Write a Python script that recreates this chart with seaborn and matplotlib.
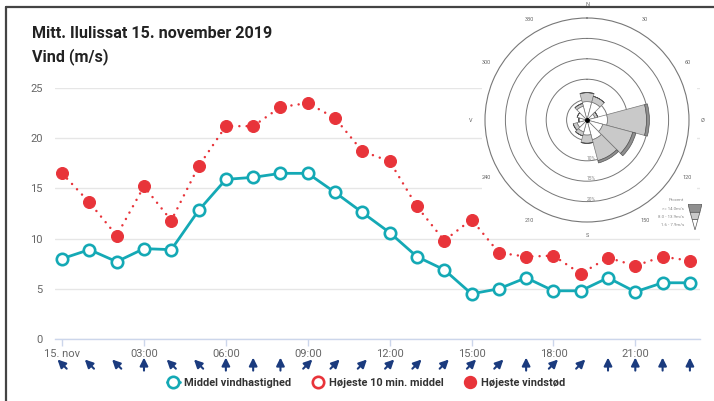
import numpy as np
import pandas as pd
import matplotlib.pyplot as plt
import seaborn as sns
from matplotlib.lines import Line2D
from matplotlib.patches import Polygon
from matplotlib.transforms import offset_copy

# hourly values, 15 Nov 2019
hours = list(range(24))
mean_speed = [8.0, 8.9, 7.7, 9.0, 8.9, 12.8, 15.9, 16.1, 16.5, 16.5, 14.6, 12.6,
              10.6, 8.2, 6.9, 4.5, 5.0, 6.1, 4.8, 4.8, 6.1, 4.7, 5.6, 5.6]
max_gust = [16.5, 13.6, 10.3, 15.2, 11.8, 17.2, 21.2, 21.2, 23.1, 23.5, 22.0, 18.7,
            17.7, 13.2, 9.8, 11.9, 8.6, 8.2, 8.3, 6.5, 8.1, 7.3, 8.2, 7.8]
# direction the arrow points (degrees, clockwise from north)
arrow_dir = [315, 315, 315, 0, 315, 315, 0, 0, 0, 45, 45, 45,
             45, 45, 45, 45, 45, 0, 45, 45, 0, 0, 0, 0]
tick_hours = [0, 3, 6, 9, 12, 15, 18, 21]
tick_labels = ['15. nov', '03:00', '06:00', '09:00', '12:00', '15:00', '18:00', '21:00']

# wind rose (percent per sector and speed class)
rose_dirs = [0, 30, 60, 90, 120, 150, 180, 210, 240, 270, 300, 330]
rose_low = [4.5, 4.5, 2.0, 5.0, 4.0, 5.0, 3.7, 3.0, 2.5, 2.0, 2.5, 3.5]
rose_mid = [2.2, 1.5, 0.7, 9.6, 7.6, 5.3, 2.0, 1.0, 1.0, 0.0, 0.0, 0.7]
rose_high = [0.0, 0.0, 0.0, 0.7, 0.8, 0.6, 0.0, 0.0, 0.0, 0.0, 0.0, 0.0]
rose_labels = ['N', '30', '60', 'Ø', '120', '150', 'S', '210', '240', 'V', '300', '330']

df = pd.DataFrame({'hour': hours, 'mean': mean_speed, 'gust': max_gust})

teal = '#14a9b5'
red = '#e8343a'
navy = '#1b3b7e'

sns.set_theme(style='white')
plt.rcParams['font.family'] = ['Roboto', 'DejaVu Sans']

fig = plt.figure(figsize=(7.14, 4.01), dpi=100)
ax = fig.add_axes([55 / 714, 62 / 401, 645 / 714, 251 / 401])

sns.lineplot(data=df, x='hour', y='gust', ax=ax, color=red, linestyle=(0, (0.01, 2.9)),
             linewidth=1.8, marker='o', markersize=8.6, markerfacecolor=red,
             markeredgecolor=red, dash_capstyle='round', zorder=3)
sns.lineplot(data=df, x='hour', y='mean', ax=ax, color=teal, linewidth=2,
             marker='o', markersize=8.2, markerfacecolor='white', markeredgecolor=teal,
             markeredgewidth=1.9, zorder=4)

ax.set_xlim(-0.26, 23.37)
ax.set_ylim(0, 25)
ax.set_yticks([0, 5, 10, 15, 20, 25])
ax.set_xticks(tick_hours)
ax.set_xticklabels(tick_labels)
ax.set_xlabel('')
ax.set_ylabel('')
ax.grid(axis='y', color='#e6e6e6', linewidth=1)
for s in ['top', 'right', 'left']:
    ax.spines[s].set_visible(False)
ax.spines['bottom'].set_color('#ccd6eb')
ax.spines['bottom'].set_linewidth(1)
ax.tick_params(axis='y', length=0, pad=9, labelsize=8, labelcolor='#666666')
ax.tick_params(axis='x', direction='out', length=5, color='#ccd6eb', width=1,
               pad=2, labelsize=8, labelcolor='#666666', bottom=True)

# wind direction arrows under the axis
L = 13
xtr = ax.get_xaxis_transform()
for h, d in zip(hours, arrow_dir):
    dx = L * np.sin(np.radians(d)) / 2
    dy = L * np.cos(np.radians(d)) / 2
    head = offset_copy(xtr, fig=fig, x=dx, y=dy, units='dots')
    tail = offset_copy(xtr, fig=fig, x=-dx, y=-dy, units='dots')
    ax.annotate('', xy=(h, -0.1), xycoords=head, xytext=(h, -0.1), textcoords=tail,
                arrowprops=dict(arrowstyle='-|>,head_length=0.4,head_width=0.2',
                                color=navy, lw=1.5, shrinkA=0, shrinkB=0),
                annotation_clip=False)

# legend
handles = [
    Line2D([], [], color=teal, lw=2, marker='o', markersize=8.2, markerfacecolor='white',
           markeredgecolor=teal, markeredgewidth=1.9),
    Line2D([], [], color=red, lw=0, marker='o', markersize=8.2, markerfacecolor='white',
           markeredgecolor=red, markeredgewidth=1.9),
    Line2D([], [], color=red, lw=0, marker='o', markersize=8.6, markerfacecolor=red,
           markeredgecolor=red),
]
names = ['Middel vindhastighed', 'Højeste 10 min. middel', 'Højeste vindstød']
fig.legend(handles, names, loc='center', bbox_to_anchor=(366 / 714, 1 - 383 / 401),
           ncol=3, frameon=False, handlelength=1.2, handletextpad=0.4, columnspacing=1.8,
           prop={'weight': 'bold', 'size': 7.9}, labelcolor='#333333')

# titles
fig.text(32 / 714, 1 - 33 / 401, 'Mitt. Ilulissat 15. november 2019', fontsize=11.6,
         fontweight='bold', color='#222222', va='center')
fig.text(32 / 714, 1 - 57 / 401, 'Vind (m/s)', fontsize=11.6, fontweight='bold',
         color='#222222', va='center')

# frame
fig.add_artist(Line2D([6 / 714, 6 / 714], [0.0, 1 - 7 / 401], color='#444444', lw=1.6))
fig.add_artist(Line2D([6 / 714, 1.0], [1 - 7 / 401, 1 - 7 / 401], color='#444444', lw=1.6))

# wind rose inset: white backing + polar plot
bg = fig.add_axes([482 / 714, 1 - 232 / 401, 215 / 714, 222 / 401])
bg.set_facecolor('white')
bg.set_xticks([])
bg.set_yticks([])
for s in bg.spines.values():
    s.set_visible(False)

pax = fig.add_axes([485 / 714, 1 - 222 / 401, 204 / 714, 204 / 401], projection='polar')
pax.set_facecolor('none')
pax.set_theta_zero_location('N')
pax.set_theta_direction(-1)
th = np.radians(rose_dirs)
w = np.radians(30)
low = np.array(rose_low)
mid = np.array(rose_mid)
high = np.array(rose_high)
pax.bar(th, low, width=w, bottom=0, color='white', edgecolor='#777777', lw=0.5, zorder=3)
pax.bar(th, mid, width=w, bottom=low, color='#c9c9c9', edgecolor='#777777', lw=0.5, zorder=3)
pax.bar(th, high, width=w, bottom=low + mid, color='#8f8f8f', edgecolor='#555555', lw=0.5, zorder=3)
pax.plot([0], [0], 'o', color='black', markersize=2.5, zorder=5)
pax.set_ylim(0, 25)
pax.set_rgrids([5, 10, 15, 20], labels=['5%', '10%', '15%', '20%'], angle=180,
               fontsize=3.5, color='#888888')
pax.grid(axis='y', color='#777777', lw=0.7)
pax.grid(axis='x', visible=False)
pax.spines['polar'].set_color('#777777')
pax.spines['polar'].set_linewidth(0.8)
pax.set_thetagrids(rose_dirs, labels=rose_labels, fontsize=4, color='#666666')
pax.tick_params(axis='x', pad=-3)

# rose legend
fig.text(684 / 714, 1 - 201 / 401, 'Procent', fontsize=3.2, color='#888888', ha='right')
for i, t in enumerate(['>= 14.0m/s', '8.0 - 13.9m/s', '1.6 - 7.9m/s']):
    fig.text(684 / 714, 1 - (210 + 8 * i) / 401, t, fontsize=3.2, color='#888888', ha='right')
tri = fig.add_axes([688 / 714, 1 - 230 / 401, 14 / 714, 26 / 401])
tri.set_xlim(0, 1)
tri.set_ylim(0, 1)
tri.axis('off')
tri.add_patch(Polygon([[0, 1], [1, 1], [0.85, 0.68], [0.15, 0.68]], fc='#8f8f8f', ec='#555555', lw=0.5))
tri.add_patch(Polygon([[0.15, 0.68], [0.85, 0.68], [0.7, 0.4], [0.3, 0.4]], fc='#c9c9c9', ec='#555555', lw=0.5))
tri.add_patch(Polygon([[0.3, 0.4], [0.7, 0.4], [0.5, 0.0]], fc='white', ec='#555555', lw=0.5))

fig.savefig('out.png', dpi=100)
